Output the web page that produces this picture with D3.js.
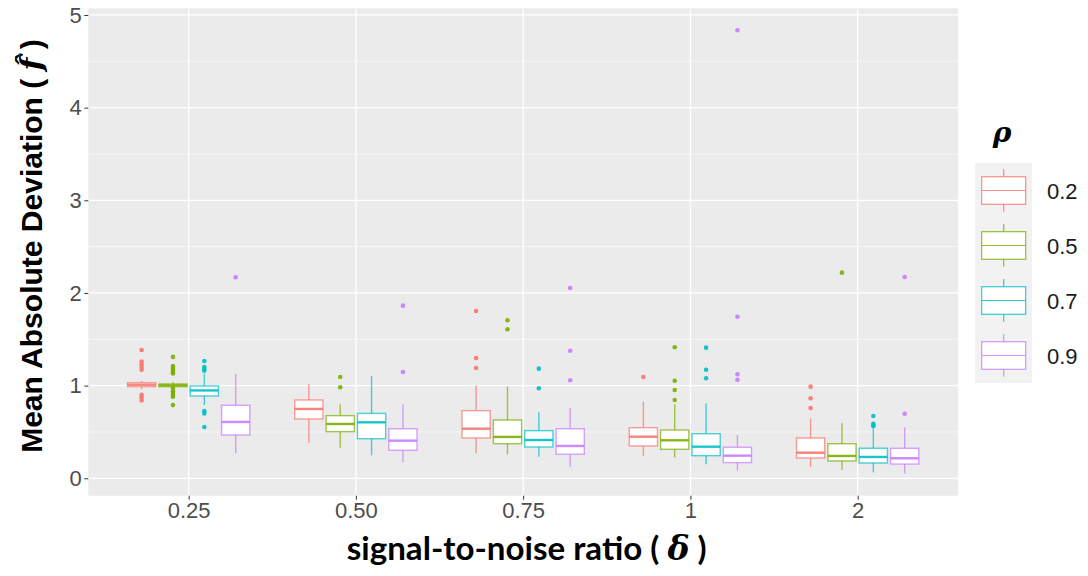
<!DOCTYPE html>
<html>
<head>
<meta charset="utf-8">
<script src="https://cdn.jsdelivr.net/npm/d3@7"></script>
<style>
  html, body { margin: 0; padding: 0; background: #ffffff; }
  svg { display: block; }
</style>
</head>
<body>
<svg id="chart" width="1088" height="576"></svg>
<script>
// ---------------- data ----------------
const categories = ["0.25", "0.50", "0.75", "1", "2"];
const rhos = ["0.2", "0.5", "0.7", "0.9"];
const colors = ["#F8766D", "#7CAE00", "#00BFC4", "#C77CFF"];
const yTicks = [0, 1, 2, 3, 4, 5];
const yMinor = [0.5, 1.5, 2.5, 3.5, 4.5];

// rows: rho (0.2, 0.5, 0.7, 0.9); columns: category
const whiskerLow = [
  [0.96, 0.384, 0.27, 0.241, 0.122],
  [0.96, 0.33, 0.259, 0.227, 0.093],
  [0.79, 0.248, 0.233, 0.151, 0.065],
  [0.27, 0.173, 0.125, 0.082, 0.05]
];
const q1 = [
  [0.989, 0.64, 0.435, 0.349, 0.219],
  [0.989, 0.503, 0.373, 0.313, 0.187],
  [0.888, 0.427, 0.338, 0.244, 0.165],
  [0.467, 0.302, 0.259, 0.169, 0.154]
];
const medians = [
  [1.01, 0.748, 0.535, 0.449, 0.276],
  [1.003, 0.586, 0.446, 0.41, 0.241],
  [0.948, 0.604, 0.413, 0.341, 0.23],
  [0.608, 0.406, 0.349, 0.244, 0.216]
];
const q3 = [
  [1.032, 0.845, 0.73, 0.546, 0.435],
  [1.018, 0.676, 0.629, 0.521, 0.373],
  [0.996, 0.70, 0.514, 0.481, 0.324],
  [0.788, 0.535, 0.535, 0.335, 0.324]
];
const whiskerHigh = [
  [1.05, 1.018, 1.0, 0.827, 0.647],
  [1.04, 0.80, 0.99, 0.80, 0.594],
  [1.13, 1.104, 0.712, 0.809, 0.54],
  [1.126, 0.80, 0.759, 0.467, 0.55]
];
const outliers = [
  [[1.385, 1.26, 1.23, 1.2, 1.17, 0.90, 0.87, 0.84], [], [1.806, 1.298, 1.19], [1.093], [0.989, 0.863, 0.759]],
  [[1.31, 1.21, 1.19, 1.17, 1.15, 1.13, 0.97, 0.94, 0.92, 0.90, 0.88, 0.79], [1.093, 0.982], [1.705, 1.608], [1.414, 1.053, 0.953, 0.845], [2.219]],
  [[1.266, 1.2, 1.18, 1.16, 0.726, 0.70, 0.553], [], [1.183, 0.971], [1.41, 1.172, 1.079], [0.672, 0.589, 0.572, 0.564]],
  [[2.17], [1.863, 1.147], [2.054, 1.377, 1.058], [4.835, 1.744, 1.122, 1.064], [2.172, 0.697]]
];

// ---------------- layout ----------------
const svg = d3.select("#chart");
const panel = { left: 88.3, right: 958, top: 8.3, bottom: 495.7 };

const x = d3.scalePoint().domain(categories).range([panel.left, panel.right]).padding(0.6);
const step = x.step();
const dodge = d3.scaleBand().domain(rhos).range([-0.375 * step, 0.375 * step]);
const boxW = dodge.bandwidth() * 0.9;
const y = d3.scaleLinear().domain([-0.188, 5.072]).range([panel.bottom, panel.top]);

// panel background
svg.append("rect")
  .attr("x", panel.left).attr("y", panel.top)
  .attr("width", panel.right - panel.left).attr("height", panel.bottom - panel.top)
  .attr("fill", "#EBEBEB");

// grid lines
const grid = svg.append("g");
grid.selectAll("line.minor").data(yMinor).join("line")
  .attr("x1", panel.left).attr("x2", panel.right)
  .attr("y1", d => y(d)).attr("y2", d => y(d))
  .attr("stroke", "#ffffff").attr("stroke-width", 0.6);
grid.selectAll("line.majorY").data(yTicks).join("line")
  .attr("x1", panel.left).attr("x2", panel.right)
  .attr("y1", d => y(d)).attr("y2", d => y(d))
  .attr("stroke", "#ffffff").attr("stroke-width", 1.3);
grid.selectAll("line.majorX").data(categories).join("line")
  .attr("x1", d => x(d)).attr("x2", d => x(d))
  .attr("y1", panel.top).attr("y2", panel.bottom)
  .attr("stroke", "#ffffff").attr("stroke-width", 1.3);

// boxplots
const plot = svg.append("g");
const outlineOpacity = 0.7;
rhos.forEach((rho, r) => {
  const col = colors[r];
  categories.forEach((cat, c) => {
    const cx = x(cat) + dodge(rho) + dodge.bandwidth() / 2;
    const g = plot.append("g");
    // whiskers
    g.append("line").attr("x1", cx).attr("x2", cx)
      .attr("y1", y(q3[r][c])).attr("y2", y(whiskerHigh[r][c]))
      .attr("stroke", col).attr("stroke-width", 1.4).attr("stroke-opacity", outlineOpacity);
    g.append("line").attr("x1", cx).attr("x2", cx)
      .attr("y1", y(q1[r][c])).attr("y2", y(whiskerLow[r][c]))
      .attr("stroke", col).attr("stroke-width", 1.4).attr("stroke-opacity", outlineOpacity);
    // box
    g.append("rect")
      .attr("x", cx - boxW / 2).attr("width", boxW)
      .attr("y", y(q3[r][c])).attr("height", Math.max(0.5, y(q1[r][c]) - y(q3[r][c])))
      .attr("fill", "#ffffff").attr("stroke", col).attr("stroke-width", 1.4).attr("stroke-opacity", outlineOpacity);
    // median
    g.append("line")
      .attr("x1", cx - boxW / 2).attr("x2", cx + boxW / 2)
      .attr("y1", y(medians[r][c])).attr("y2", y(medians[r][c]))
      .attr("stroke", col).attr("stroke-width", 2.4).attr("stroke-opacity", 0.9);
    // outliers
    g.selectAll("circle").data(outliers[r][c]).join("circle")
      .attr("cx", cx).attr("cy", d => y(d)).attr("r", 2.3)
      .attr("fill", col).attr("fill-opacity", 0.9);
  });
});

// axes
const tickColor = "#4D4D4D";
const yAxis = svg.append("g").attr("transform", `translate(${panel.left},0)`)
  .call(d3.axisLeft(y).tickValues(yTicks).tickFormat(d3.format("d")).tickSize(4).tickPadding(2.5));
const xAxis = svg.append("g").attr("transform", `translate(0,${panel.bottom})`)
  .call(d3.axisBottom(x).tickSize(4).tickPadding(2.7));
[yAxis, xAxis].forEach(a => {
  a.select(".domain").remove();
  a.selectAll(".tick line").attr("stroke", "#333333").attr("stroke-width", 1);
  a.selectAll(".tick text").attr("fill", tickColor)
    .style("font-family", "'Liberation Sans', Arial, sans-serif").style("font-size", "22px");
});

// fit a text node to a target length by adjusting its font size
function fit(sel, target) {
  const fs = parseFloat(sel.style("font-size"));
  const len = sel.node().getComputedTextLength();
  sel.style("font-size", (fs * target / len) + "px");
}

// y title
const yTitle = svg.append("text")
  .attr("transform", "translate(42,246) rotate(-90)")
  .attr("text-anchor", "middle")
  .style("font-family", "'Liberation Sans', Arial, sans-serif")
  .style("font-weight", "bold").style("font-size", "27px").attr("fill", "#000");
yTitle.append("tspan").text("Mean Absolute Deviation ( ");
yTitle.append("tspan").style("font-family", "'DejaVu Serif', serif").style("font-style", "italic").text("f\u0302");
yTitle.append("tspan").text(" )");
fit(yTitle, 414);

// x title
const xTitle = svg.append("text")
  .attr("x", 526.7).attr("y", 560)
  .attr("text-anchor", "middle")
  .style("font-family", "Lato, 'Open Sans', sans-serif")
  .style("font-weight", "bold").style("font-size", "28px").attr("fill", "#000");
xTitle.append("tspan").text("signal-to-noise ratio ( ");
xTitle.append("tspan").style("font-family", "'DejaVu Serif', serif").style("font-style", "italic").text("\u03B4");
xTitle.append("tspan").text(" )");
fit(xTitle, 360);

// legend
const legend = svg.append("g");
legend.append("text")
  .attr("x", 1002).attr("y", 142).attr("text-anchor", "middle")
  .style("font-family", "'DejaVu Serif', serif").style("font-style", "italic")
  .style("font-weight", "bold").style("font-size", "28px").attr("fill", "#000")
  .text("\u03C1");
legend.append("rect").attr("x", 975).attr("y", 163).attr("width", 57).attr("height", 220)
  .attr("fill", "#F2F2F2");
const keyH = 55;
rhos.forEach((rho, r) => {
  const y0 = 163 + keyH * r;
  const col = colors[r];
  const kx = 1003.7;
  const k = legend.append("g").attr("stroke-opacity", 0.8);
  k.append("line").attr("x1", kx).attr("x2", kx).attr("y1", y0 + 6).attr("y2", y0 + 13.7)
    .attr("stroke", col).attr("stroke-width", 1.2);
  k.append("line").attr("x1", kx).attr("x2", kx).attr("y1", y0 + 41.3).attr("y2", y0 + 48.7)
    .attr("stroke", col).attr("stroke-width", 1.2);
  k.append("rect").attr("x", 981.7).attr("y", y0 + 13.7).attr("width", 44).attr("height", 27.6)
    .attr("fill", "#ffffff").attr("stroke", col).attr("stroke-width", 1.2);
  k.append("line").attr("x1", 981.7).attr("x2", 1025.7).attr("y1", y0 + 27.5).attr("y2", y0 + 27.5)
    .attr("stroke", col).attr("stroke-width", 1.2);
  k.append("text").attr("x", 1047).attr("y", y0 + 36)
    .style("font-family", "'Liberation Sans', Arial, sans-serif").style("font-size", "22px")
    .attr("fill", "#1A1A1A").text(rho);
});
</script>
</body>
</html>
